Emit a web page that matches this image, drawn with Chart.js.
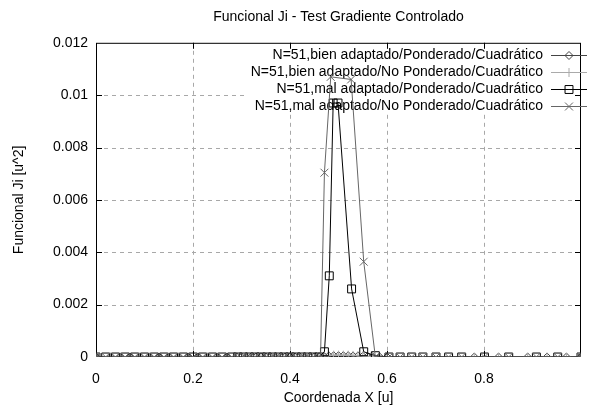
<!DOCTYPE html>
<html>
<head>
<meta charset="utf-8">
<script src="https://cdn.jsdelivr.net/npm/chart.js@4.4.1/dist/chart.umd.min.js"></script>
<style>
  html, body { margin: 0; padding: 0; background: #fff; }
  #wrap { width: 595px; height: 407px; }
</style>
</head>
<body>
<div id="wrap"><canvas id="ji"></canvas></div>
<script>
// ticks
const xTicks = [0, 0.2, 0.4, 0.6, 0.8, 1];
const xTickLabels = ['0', '0.2', '0.4', '0.6', '0.8', ''];
const yTicks = [0, 0.002, 0.004, 0.006, 0.008, 0.01, 0.012];
const yTickLabels = ['0', '0.002', '0.004', '0.006', '0.008', '0.01', '0.012'];

const seriesNames = [
    'N=51,bien adaptado/Ponderado/Cuadrático',
    'N=51,bien adaptado/No Ponderado/Cuadrático',
    'N=51,mal adaptado/Ponderado/Cuadrático',
    'N=51,mal adaptado/No Ponderado/Cuadrático'
];

// malla bien adaptada (nodos concentrados en el pico)
const bienX = [0, 0.03, 0.05, 0.07, 0.09, 0.11, 0.13, 0.15, 0.17, 0.19, 0.21, 0.23, 0.25, 0.27, 0.29,
    0.30, 0.31, 0.32, 0.33, 0.34, 0.35, 0.36, 0.37, 0.38, 0.39, 0.40, 0.41, 0.42, 0.43, 0.44, 0.45,
    0.46, 0.47, 0.48, 0.49, 0.50, 0.51, 0.52, 0.53, 0.54, 0.55, 0.56, 0.57, 0.585,
    0.60, 0.78, 0.83, 0.89, 0.93, 0.97, 1.0];
const bienPondY = [0, 0, 0, 0, 0, 0, 0, 0, 0, 0, 0, 0, 0, 0, 0,
    0, 0, 0, 0, 0, 0, 0, 0, 0, 0, 0, 0, 0, 0, 0, 0,
    0.00001, 0.00003, 0.00004, 0.00005, 0.00005, 0.00005, 0.00005, 0.00004, 0.00004, 0.00003, 0.00002, 0.00001, 0,
    0, 0, 0, 0, 0, 0, 0];
const bienNoPondY = [0, 0, 0, 0, 0, 0, 0, 0, 0, 0, 0, 0, 0, 0, 0,
    0, 0, 0, 0, 0, 0, 0, 0, 0, 0, 0, 0, 0, 0, 0, 0,
    0.00002, 0.00004, 0.00006, 0.00007, 0.00007, 0.00007, 0.00007, 0.00006, 0.00005, 0.00004, 0.00002, 0.00001, 0,
    0, 0, 0, 0, 0, 0, 0];

// malla mal adaptada, funcional ponderado
const malPondX = [0, 0.02, 0.04, 0.06, 0.08, 0.10, 0.12, 0.14, 0.16, 0.18, 0.20, 0.22, 0.24, 0.26, 0.28,
    0.292, 0.304, 0.316, 0.328, 0.34, 0.352, 0.364, 0.376, 0.388, 0.40, 0.412, 0.424, 0.436, 0.448,
    0.46, 0.471, 0.481, 0.489, 0.499, 0.527, 0.552, 0.576,
    0.604, 0.627, 0.651, 0.674, 0.701, 0.727, 0.754, 0.801, 0.851, 0.908, 0.952, 1.0];
const malPondY = [0, 0, 0, 0, 0, 0, 0, 0, 0, 0, 0, 0, 0, 0, 0,
    0, 0, 0, 0, 0, 0, 0, 0, 0, 0, 0, 0, 0, 0,
    0, 0.0002, 0.0031, 0.0097, 0.0097, 0.0026, 0.0002, 0.00005,
    0, 0, 0, 0, 0, 0, 0, 0, 0, 0, 0, 0];

// malla mal adaptada, funcional no ponderado
const malNoPondX = [0, 0.02, 0.04, 0.06, 0.08, 0.10, 0.12, 0.14, 0.16, 0.18, 0.20, 0.22, 0.24, 0.26, 0.28,
    0.292, 0.304, 0.316, 0.328, 0.34, 0.352, 0.364, 0.376, 0.388, 0.40, 0.412, 0.424, 0.436, 0.448,
    0.463, 0.471, 0.484, 0.526, 0.552, 0.576,
    0.604, 0.627, 0.651, 0.674, 0.701, 0.727, 0.754, 0.801, 0.851, 0.908, 0.952, 1.0];
const malNoPondY = [0, 0, 0, 0, 0, 0, 0, 0, 0, 0, 0, 0, 0, 0, 0,
    0, 0, 0, 0, 0, 0, 0, 0, 0, 0, 0, 0, 0, 0,
    0, 0.00704, 0.0107, 0.0106, 0.00364, 0,
    0, 0, 0, 0, 0, 0, 0, 0, 0, 0, 0, 0];

const pts = (xs, ys) => xs.map((x, i) => ({x: x, y: ys[i]}));

const FONT = 'Liberation Sans, Arial, Helvetica, sans-serif';
Chart.defaults.font.family = FONT;
Chart.defaults.font.size = 14;
Chart.defaults.color = '#000';

const styles = [
    {color: '#444444', point: 'rectRot', radius: 4},
    {color: '#aaaaaa', point: 'cross', radius: 4.5},
    {color: '#000000', point: 'rect', radius: 5.6},
    {color: '#666666', point: 'crossRot', radius: 5.6}
];

const datasets = [
    pts(bienX, bienPondY),
    pts(bienX, bienNoPondY),
    pts(malPondX, malPondY),
    pts(malNoPondX, malNoPondY)
].map((d, i) => ({
    label: seriesNames[i],
    data: d,
    showLine: true,
    borderColor: styles[i].color,
    borderWidth: 1,
    pointStyle: styles[i].point,
    pointRadius: styles[i].radius,
    pointBorderColor: styles[i].color,
    pointBackgroundColor: 'rgba(0,0,0,0)',
    pointBorderWidth: 1,
    order: 4 - i
}));

// marco, rejilla y leyenda al estilo gnuplot
const gnuplotFrame = {
    id: 'gnuplotFrame',
    beforeDatasetsDraw(chart) {
        const {ctx, chartArea: a, scales: {x, y}} = chart;
        ctx.save();
        ctx.lineWidth = 1;
        ctx.strokeStyle = '#a8a8a8';
        ctx.setLineDash([4, 4]);
        xTicks.slice(1, -1).forEach(v => {
            const px = Math.round(x.getPixelForValue(v)) + 0.5;
            ctx.beginPath(); ctx.moveTo(px, a.top); ctx.lineTo(px, a.bottom); ctx.stroke();
        });
        yTicks.slice(1, -1).forEach(v => {
            const py = Math.round(y.getPixelForValue(v)) + 0.5;
            ctx.beginPath(); ctx.moveTo(a.left, py); ctx.lineTo(a.right, py); ctx.stroke();
        });
        ctx.setLineDash([]);

        // fondo de la leyenda
        ctx.fillStyle = '#fff';
        ctx.fillRect(246, a.top + 2, a.right - 248, 68);

        // borde y marcas
        ctx.strokeStyle = '#000';
        ctx.strokeRect(a.left + 0.5, a.top + 0.5, a.right - a.left - 1, a.bottom - a.top - 1);
        ctx.beginPath();
        xTicks.slice(1, -1).forEach(v => {
            const px = Math.round(x.getPixelForValue(v)) + 0.5;
            ctx.moveTo(px, a.bottom); ctx.lineTo(px, a.bottom - 6);
            ctx.moveTo(px, a.top); ctx.lineTo(px, a.top + 6);
        });
        yTicks.slice(1, -1).forEach(v => {
            const py = Math.round(y.getPixelForValue(v)) + 0.5;
            ctx.moveTo(a.left, py); ctx.lineTo(a.left + 6, py);
            ctx.moveTo(a.right, py); ctx.lineTo(a.right - 6, py);
        });
        ctx.stroke();

        // leyenda
        ctx.font = '14px ' + FONT;
        ctx.textAlign = 'right';
        ctx.textBaseline = 'middle';
        seriesNames.forEach((name, i) => {
            const ly = 55 + i * 17;
            ctx.fillStyle = '#000';
            ctx.fillText(name, 543, ly);
            ctx.strokeStyle = styles[i].color;
            ctx.fillStyle = 'rgba(0,0,0,0)';
            ctx.beginPath(); ctx.moveTo(551, ly + 0.5); ctx.lineTo(587, ly + 0.5); ctx.stroke();
            Chart.helpers.drawPoint(ctx, {pointStyle: styles[i].point, radius: styles[i].radius, rotation: 0, borderWidth: 1}, 569, ly + 0.5);
        });
        ctx.restore();
    }
};

new Chart(document.getElementById('ji'), {
    type: 'scatter',
    data: {datasets: datasets},
    options: {
        responsive: true,
        maintainAspectRatio: false,
        animation: false,
        layout: {padding: {left: 0, right: 1, top: 0, bottom: 0}},
        plugins: {
            legend: {display: false},
            tooltip: {enabled: false},
            title: {
                display: true,
                text: 'Funcional Ji - Test Gradiente Controlado',
                fullSize: false,
                font: {size: 14, weight: 'normal'},
                color: '#000',
                padding: {top: 9, bottom: 17}
            }
        },
        scales: {
            x: {
                type: 'linear',
                min: 0,
                max: 1,
                afterBuildTicks: s => { s.ticks = xTicks.map(v => ({value: v})); },
                afterFit: s => { s.height = 50; },
                ticks: {
                    autoSkip: false,
                    maxRotation: 0,
                    padding: 14,
                    callback: (v, i) => xTickLabels[i]
                },
                grid: {display: false, drawTicks: false},
                border: {display: false},
                title: {display: true, text: 'Coordenada X [u]', padding: {top: 0, bottom: 0}}
            },
            y: {
                type: 'linear',
                min: 0,
                max: 0.012,
                afterBuildTicks: s => { s.ticks = yTicks.map(v => ({value: v})); },
                afterFit: s => { s.width = 96; },
                ticks: {
                    autoSkip: false,
                    padding: 8,
                    callback: (v, i) => yTickLabels[i]
                },
                grid: {display: false, drawTicks: false},
                border: {display: false},
                title: {display: true, text: 'Funcional Ji [u^2]', padding: {top: 11, bottom: 0}}
            }
        }
    },
    plugins: [gnuplotFrame]
});
</script>
</body>
</html>
